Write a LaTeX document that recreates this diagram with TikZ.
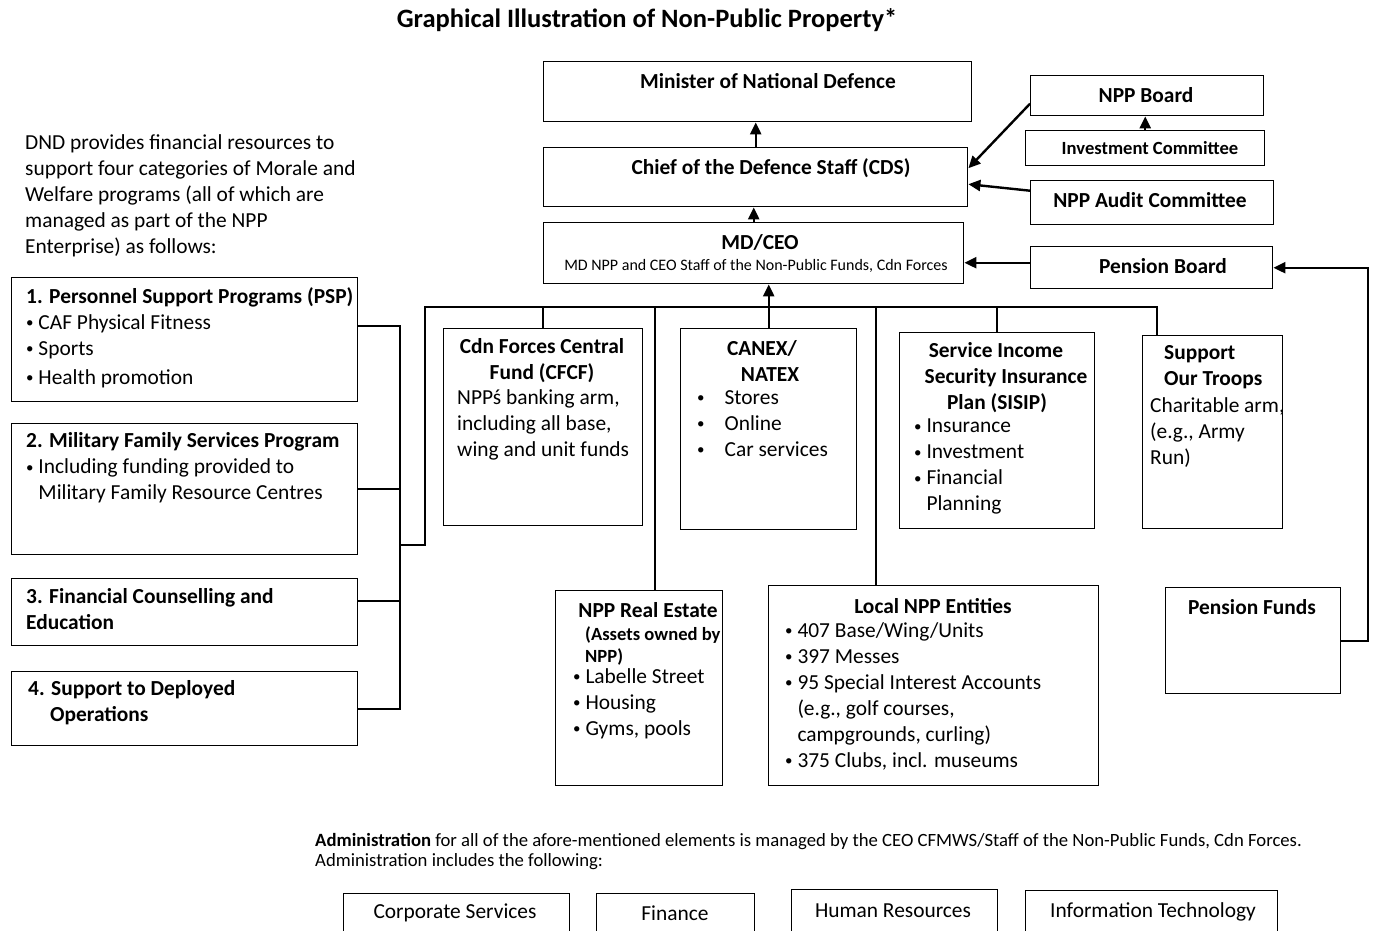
\documentclass[tikz,border=0pt]{standalone}
\usepackage{fontspec}
\setmainfont{Carlito}
\usetikzlibrary{positioning}
\usetikzlibrary{calc}
\usetikzlibrary{arrows.meta}
\newcommand{\smallbullet}{\raisebox{0.12ex}{\scalebox{0.7}{\textbullet}}}

\begin{document}
\begin{tikzpicture}[x=1pt, y=-1pt,
			boxnode/.style={rectangle, draw=black, line width=1.4pt, anchor=north west, inner sep=0pt},
			plaintext/.style={anchor=north west, inner sep=0pt, align=left, font=\fontsize{21.4}{26}\selectfont},
			boldtext/.style={inner sep=0pt, align=center, font=\bfseries\fontsize{21.4}{26}\selectfont},
			smallbold/.style={anchor=north west, inner sep=0pt, align=left, font=\bfseries\fontsize{18.6}{22}\selectfont},
			link/.style={line width=2.2pt},
			arrow/.style={-{Triangle[length=12pt,width=11pt]}, line width=2.4pt},
			]
			\useasboundingbox (0,0) rectangle (1381,930);
			%Title
			\node[boldtext, font=\bfseries\fontsize{26.5}{30}\selectfont] (title) at (647,20) {Graphical Illustration of Non-Public Property*};
			
			%Top chain
			\node[boxnode, minimum width=428pt, minimum height=60pt] (minister) at (543,61) {};
			\node[boldtext] (ministertxt) at (768,81) {Minister of National Defence};
			\node[boxnode, minimum width=424pt, minimum height=59pt] (cds) at (543,147) {};
			\node[boldtext] (cdstxt) at (771,168) {Chief of the Defence Staff (CDS)};
			\node[boxnode, minimum width=420pt, minimum height=61pt] (mdceo) at (543,222) {};
			\node[boldtext] (mdceotxt) at (760,242) {MD/CEO};
			\node[inner sep=0pt, font=\fontsize{16}{18}\selectfont] (mdceosub) at (756,266) {MD NPP and CEO Staff of the Non-Public Funds, Cdn Forces};
			
			%Boards and committees
			\node[boxnode, minimum width=233pt, minimum height=40pt] (nppboard) at (1030,75) {};
			\node[boldtext] (nppboardtxt) at (1146,95) {NPP Board};
			\node[boxnode, minimum width=239pt, minimum height=35pt] (invest) at (1025,130) {};
			\node[boldtext, font=\bfseries\fontsize{18.6}{22}\selectfont] (investtxt) at (1150,148) {Investment Committee};
			\node[boxnode, minimum width=243pt, minimum height=44pt] (audit) at (1030,180) {};
			\node[boldtext] (audittxt) at (1150,200) {NPP Audit Committee};
			\node[boxnode, minimum width=242pt, minimum height=42pt] (pensionboard) at (1030,246) {};
			\node[boldtext] (pensionboardtxt) at (1163,266) {Pension Board};
			
			%Left side
			\node[plaintext] (intro) at (25,134) {DND provides financial resources to\\ support four categories of Morale and\\ Welfare programs (all of which are\\ managed as part of the NPP\\ Enterprise) as follows:};
			\node[boxnode, minimum width=346pt, minimum height=124pt] (psp) at (11,277) {};
			\node[plaintext] (psptxt) at (26,287) {\textbf{1. Personnel Support Programs (PSP)}\\ \smallbullet\ CAF Physical Fitness\\ \smallbullet\ Sports\\[3pt] \smallbullet\ Health promotion};
			\node[boxnode, minimum width=346pt, minimum height=131pt] (mfsp) at (11,423) {};
			\node[plaintext] (mfsptxt) at (26,432) {\textbf{2. Military Family Services Program}\\ \smallbullet\ Including funding provided to\\ \phantom{\smallbullet\ }Military Family Resource Centres};
			\node[boxnode, minimum width=346pt, minimum height=67pt] (fce) at (11,578) {};
			\node[plaintext] (fcetxt) at (26,588) {\textbf{3. Financial Counselling and}\\ \textbf{Education}};
			\node[boxnode, minimum width=346pt, minimum height=74pt] (sdo) at (11,671) {};
			\node[plaintext] (sdotxt) at (28,680) {\textbf{4. Support to Deployed}\\ \textbf{\hspace{22pt}Operations}};
			
			%Middle row
			\node[boxnode, minimum width=199pt, minimum height=197pt] (cfcf) at (443,328) {};
			\node[boldtext] (cfcftxt) at (542,361) {Cdn Forces Central\\ Fund (CFCF)};
			\node[plaintext] (cfcfsub) at (457,389) {NPPś banking arm,\\ including all base,\\ wing and unit funds};
			\node[boxnode, minimum width=176pt, minimum height=201pt] (canex) at (680,328) {};
			\node[boldtext] (canextxt) at (766,361) {\hspace{-8pt}CANEX/\\ \hspace{8pt}NATEX};
			\node[plaintext] (canexsub) at (697,390) {\smallbullet\hspace{20pt}Stores\\ \smallbullet\hspace{20pt}Online\\ \smallbullet\hspace{20pt}Car services};
			\node[boxnode, minimum width=195pt, minimum height=196pt] (sisip) at (899,332) {};
			\node[boldtext] (sisiptxt) at (1006,378) {\hspace{-20pt}Service Income\\ Security Insurance\\ \hspace{-18pt}Plan (SISIP)};
			\node[plaintext] (sisipsub) at (914,419) {\smallbullet\ Insurance\\ \smallbullet\ Investment\\ \smallbullet\ Financial\\ \phantom{\smallbullet\ }Planning};
			\node[boxnode, minimum width=140pt, minimum height=193pt] (troops) at (1142,335) {};
			\node[plaintext, font=\bfseries\fontsize{21.4}{26}\selectfont] (troopstxt) at (1164,345) {Support\\ Our Troops};
			\node[plaintext] (troopssub) at (1150,397) {Charitable arm,\\ (e.g., Army\\ Run)};
			
			%Bottom row
			\node[boxnode, minimum width=167pt, minimum height=195pt] (realestate) at (555,590) {};
			\node[boldtext] (realestatetxt) at (648,610) {NPP Real Estate};
			\node[smallbold] (realestatesub) at (585,626) {(Assets owned by\\ NPP)};
			\node[plaintext] (realestatelist) at (573,668) {\smallbullet\ Labelle Street\\ \smallbullet\ Housing\\ \smallbullet\ Gyms, pools};
			\node[boxnode, minimum width=330pt, minimum height=200pt] (local) at (768,585) {};
			\node[boldtext] (localtxt) at (933,606) {Local NPP Entities};
			\node[plaintext] (locallist) at (785,622) {\smallbullet\ 407 Base/Wing/Units\\ \smallbullet\ 397 Messes\\ \smallbullet\ 95 Special Interest Accounts\\ \phantom{\smallbullet\ }(e.g., golf courses,\\ \phantom{\smallbullet\ }campgrounds, curling)\\ \smallbullet\ 375 Clubs, incl. museums};
			\node[boxnode, minimum width=175pt, minimum height=106pt] (pensionfunds) at (1165,587) {};
			\node[boldtext] (pensionfundstxt) at (1252,607) {Pension Funds};
			
			%Administration
			\node[plaintext, font=\fontsize{18.7}{20}\selectfont] (admin) at (315,833) {\textbf{Administration} for all of the afore-mentioned elements is managed by the CEO CFMWS/Staff of the Non-Public Funds, Cdn Forces.\\ Administration includes the following:};
			\node[boxnode, minimum width=226pt, minimum height=60pt] (corp) at (343,893) {};
			\node[plaintext, anchor=center] (corptxt) at (455,913) {Corporate Services};
			\node[boxnode, minimum width=158pt, minimum height=60pt] (finance) at (596,893) {};
			\node[plaintext, anchor=center] (financetxt) at (675,913) {Finance};
			\node[boxnode, minimum width=206pt, minimum height=60pt] (hr) at (791,889) {};
			\node[plaintext, anchor=center] (hrtxt) at (893,911) {Human Resources};
			\node[boxnode, minimum width=252pt, minimum height=60pt] (it) at (1025,890) {};
			\node[plaintext, anchor=center] (ittxt) at (1153,912) {Information Technology};
			
			%Coordinates
			\coordinate (busL) at (425,307);
			\coordinate (busR) at (1157,307);
			\coordinate (brk) at (400,545);
			\coordinate (pfbend) at (1368,0);
			
			%Lines
			\draw[arrow] (cds.north) -- (cds.north |- minister.south);
			\draw[arrow] (mdceo.north) -- (mdceo.north |- cds.south);
			\draw[arrow] ([yshift=-8pt]nppboard.west) -- ([yshift=9pt]cds.east);
			\draw[arrow] ([yshift=12pt]audit.west) -- ([yshift=-7pt]cds.east);
			\draw[arrow] (invest.north) -- (invest.north |- nppboard.south);
			\draw[arrow] ([yshift=5pt]pensionboard.west) -- ([yshift=5pt]pensionboard.west -| mdceo.east);
			\draw[arrow] (pensionfunds.east) -| (pfbend |- pensionboard.east) -- (pensionboard.east);
			
			\draw[link] ([yshift=14pt]psp.east) -- ([yshift=14pt]psp.east -| brk) -- (brk |- sdo.east) -- (sdo.east);
			\draw[link] (mfsp.east) -- (mfsp.east -| brk);
			\draw[link] ([yshift=11pt]fce.east) -- ([yshift=11pt]fce.east -| brk);
			\draw[link] (brk) -- (brk -| busL) -- (busL) -- (busR) -- (busR |- troops.north);
			
			\draw[link] (cfcf.north) -- (cfcf.north |- busL);
			\draw[arrow] (canex.north) -- (canex.north |- mdceo.south);
			\draw[link] (sisip.north) -- (sisip.north |- busL);
			\draw[link] ([xshift=16pt]realestate.north) -- ([xshift=16pt]realestate.north |- busL);
			\draw[link] ([xshift=-58pt]local.north) -- ([xshift=-58pt]local.north |- busL);
		\end{tikzpicture}
\end{document}
